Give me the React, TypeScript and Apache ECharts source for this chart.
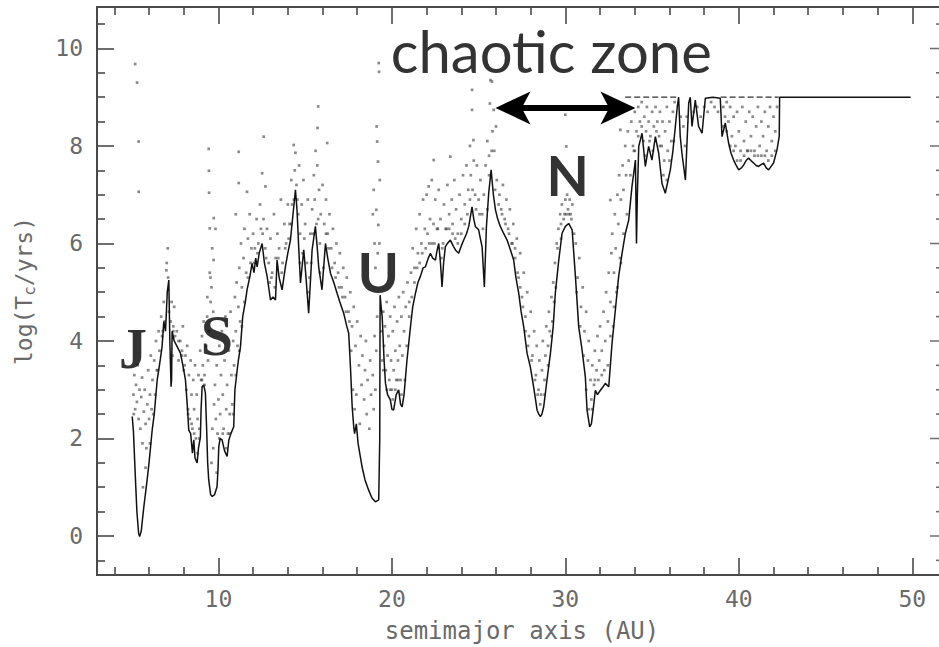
import { useEffect, useRef } from 'react';
import * as echarts from 'echarts';

// Tick positions (AU on x, log10 of lifetime on y)
const xMajor = [10, 20, 30, 40, 50];
const xMinor = [4, 6, 8, 12, 14, 16, 18, 22, 24, 26, 28, 32, 34, 36, 38, 42, 44, 46, 48];
const yMajor = [0, 2, 4, 6, 8, 10];
const yMinor = [-0.5, 0.5, 1, 1.5, 2.5, 3, 3.5, 4.5, 5, 5.5, 6.5, 7, 7.5, 8.5, 9, 9.5, 10.5];
const xFrameRight = 52;

// Shortest survival time of the test particles versus semimajor axis
const minLifetime: [number, number][] = [
  [5.03, 2.45], [5.1, 2.15], [5.2, 1.3], [5.3, 0.5], [5.4, 0.05], [5.46, -0.01], [5.55, 0.1], [5.7, 0.6],
  [5.89, 1.15], [6.0, 1.5], [6.18, 2.17], [6.3, 2.5], [6.47, 3.2], [6.6, 3.5], [6.75, 3.88], [6.85, 4.4],
  [6.95, 4.2], [7.05, 5.0], [7.14, 5.25], [7.2, 4.0], [7.27, 3.06], [7.3, 3.2], [7.33, 4.2], [7.45, 4.0],
  [7.6, 3.9], [7.81, 3.75], [7.95, 3.5], [8.1, 3.2], [8.2, 2.7], [8.29, 2.17], [8.4, 2.1], [8.5, 1.7],
  [8.58, 1.97], [8.65, 1.6], [8.77, 1.5], [8.85, 1.8], [8.96, 2.03], [9.0, 2.6], [9.06, 3.06], [9.15, 3.1],
  [9.25, 2.93], [9.32, 2.2], [9.38, 1.5], [9.44, 1.15], [9.55, 0.85], [9.64, 0.81], [9.78, 0.85], [9.92, 1.01],
  [9.98, 1.4], [10.02, 1.83], [10.1, 2.0], [10.21, 1.97], [10.35, 1.75], [10.5, 1.63], [10.6, 1.97], [10.72, 2.1],
  [10.88, 2.24], [10.95, 3.0], [11.08, 3.4], [11.15, 3.6], [11.27, 3.88], [11.4, 4.5], [11.55, 4.8], [11.65, 5.05],
  [11.8, 5.3], [11.94, 5.59], [12.05, 5.4], [12.15, 5.7], [12.23, 5.52], [12.35, 5.8], [12.52, 6.0], [12.65, 5.6],
  [12.81, 5.32], [13.0, 4.84], [13.15, 4.9], [13.29, 4.84], [13.38, 5.66], [13.5, 5.3], [13.67, 5.05], [13.86, 5.52],
  [14.0, 5.8], [14.15, 6.07], [14.3, 6.6], [14.44, 7.1], [14.53, 6.69], [14.63, 5.9], [14.73, 5.19], [14.92, 5.87],
  [15.05, 5.3], [15.2, 4.57], [15.3, 5.2], [15.4, 5.87], [15.59, 6.35], [15.7, 5.9], [15.78, 5.52], [15.97, 5.05],
  [16.17, 6.0], [16.3, 5.7], [16.46, 5.39], [16.65, 5.2], [16.84, 4.98], [17.0, 4.8], [17.22, 4.57], [17.4, 4.3],
  [17.51, 4.16], [17.61, 3.47], [17.71, 2.65], [17.8, 2.24], [17.85, 2.1], [17.95, 2.3], [18.05, 1.9], [18.28, 1.42],
  [18.45, 1.15], [18.66, 0.94], [18.85, 0.78], [19.05, 0.7], [19.24, 0.74], [19.3, 2.0], [19.32, 4.94], [19.38, 4.7],
  [19.44, 4.5], [19.55, 3.6], [19.63, 3.13], [19.75, 2.9], [19.91, 2.79], [20.0, 2.6], [20.1, 2.58], [20.25, 2.9],
  [20.39, 3.0], [20.5, 2.7], [20.59, 2.65], [20.7, 2.9], [20.87, 3.61], [21.07, 4.29], [21.2, 4.7], [21.36, 4.98],
  [21.5, 5.2], [21.64, 5.32], [21.8, 5.5], [21.93, 5.52], [22.1, 5.7], [22.22, 5.8], [22.35, 5.7], [22.51, 5.66],
  [22.6, 5.85], [22.7, 6.0], [22.8, 5.6], [22.89, 5.11], [22.98, 5.6], [23.08, 5.93], [23.2, 6.0], [23.37, 6.07],
  [23.56, 5.93], [23.7, 5.85], [23.85, 5.8], [24.0, 5.95], [24.14, 6.07], [24.3, 6.2], [24.43, 6.35], [24.55, 6.6],
  [24.62, 6.75], [24.72, 6.5], [24.81, 6.35], [25.0, 6.28], [25.1, 6.1], [25.2, 5.93], [25.33, 5.11], [25.45, 6.35],
  [25.58, 7.03], [25.72, 7.51], [25.85, 7.0], [25.97, 6.69], [26.1, 6.5], [26.25, 6.35], [26.45, 6.2], [26.64, 6.07],
  [26.85, 5.85], [27.02, 5.66], [27.15, 5.3], [27.31, 4.98], [27.45, 4.6], [27.6, 4.29], [27.79, 3.75], [27.98, 3.47],
  [28.17, 3.06], [28.3, 2.75], [28.37, 2.58], [28.47, 2.5], [28.56, 2.45], [28.65, 2.5], [28.75, 2.65], [28.94, 3.2],
  [29.14, 3.75], [29.3, 4.3], [29.42, 4.98], [29.62, 5.66], [29.81, 6.21], [30.0, 6.35], [30.19, 6.41], [30.39, 6.28],
  [30.58, 5.32], [30.77, 4.29], [30.96, 3.82], [31.15, 3.27], [31.25, 2.58], [31.4, 2.24], [31.5, 2.3], [31.6, 2.58],
  [31.73, 2.99], [31.85, 2.9], [32.02, 2.99], [32.15, 3.05], [32.3, 3.13], [32.5, 3.06], [32.69, 3.95], [32.88, 4.63],
  [33.07, 5.32], [33.27, 5.8], [33.46, 6.21], [33.65, 6.48], [33.84, 7.17], [34.04, 7.71], [34.1, 6.0], [34.15, 7.0],
  [34.23, 7.99], [34.42, 8.26], [34.61, 7.58], [34.8, 7.99], [34.99, 7.71], [35.19, 8.19], [35.38, 7.85], [35.57, 7.23],
  [35.76, 7.03], [36.05, 7.51], [36.2, 7.9], [36.34, 8.4], [36.45, 8.8], [36.53, 9.0], [36.62, 8.2], [36.72, 7.85],
  [36.92, 7.3], [37.11, 8.88], [37.2, 9.0], [37.3, 8.4], [37.49, 8.94], [37.68, 8.4], [37.88, 8.26], [38.07, 8.98],
  [38.5, 9.0], [38.93, 8.98], [39.03, 8.19], [39.22, 8.47], [39.41, 8.06], [39.55, 7.85], [39.7, 7.71], [39.85, 7.6],
  [39.99, 7.51], [40.15, 7.55], [40.28, 7.61], [40.42, 7.7], [40.56, 7.75], [40.7, 7.7], [40.85, 7.65], [41.0, 7.6],
  [41.14, 7.58], [41.3, 7.62], [41.43, 7.65], [41.58, 7.55], [41.72, 7.51], [41.86, 7.58], [42.0, 7.65], [42.2, 7.92],
  [42.33, 8.2], [42.35, 9.0], [49.9, 9.0],
];

// Particles that reached the end of the integration, drawn along log T = 9
const capSegments: [number, number][][] = [
  [[33.45, 9.0], [36.5, 9.0]],
  [[38.95, 9.0], [42.3, 9.0]],
];

// Individual particle lifetimes, grouped by region
const jupiterZone: [number, number][] = [
  [5.1, 2.9], [5.15, 3.3], [5.2, 2.6], [5.25, 3.1], [5.3, 2.75], [5.35, 3.5], [5.4, 2.4], [5.45, 3.0],
  [5.5, 2.2], [5.55, 2.85], [5.6, 3.25], [5.62, 1.9], [5.7, 2.55], [5.75, 3.0], [5.8, 2.3], [5.85, 1.8],
  [5.9, 2.7], [5.95, 3.4], [6.0, 2.4], [6.05, 2.9], [6.1, 3.7], [6.15, 2.6], [6.2, 3.2], [6.3, 3.6],
  [6.35, 2.9], [6.4, 4.0], [6.45, 3.4], [6.55, 4.2], [6.6, 3.8], [6.7, 4.5], [6.75, 4.1], [6.85, 4.8],
  [6.9, 4.4], [7.0, 5.45], [7.02, 5.6], [7.08, 5.9], [7.15, 4.6], [7.25, 4.4], [7.3, 4.8], [7.35, 3.7],
  [7.4, 4.3], [7.45, 4.7], [7.5, 4.1], [5.2, 9.68], [5.31, 9.3], [5.4, 8.09], [5.4, 7.06],
];

const saturnZone: [number, number][] = [
  [7.6, 4.2], [7.7, 3.6], [7.8, 4.0], [7.9, 3.8], [7.95, 4.3], [8.0, 3.4], [8.1, 3.7], [8.15, 3.0],
  [8.2, 3.9], [8.25, 2.6], [8.3, 3.3], [8.35, 2.4], [8.4, 3.6], [8.45, 2.9], [8.5, 2.2], [8.55, 3.2],
  [8.6, 2.6], [8.65, 3.5], [8.7, 2.0], [8.75, 2.9], [8.8, 2.4], [8.85, 3.3], [8.9, 2.2], [8.95, 3.8],
  [9.0, 3.2], [9.05, 4.1], [9.1, 3.5], [9.15, 4.4], [9.2, 3.3], [9.3, 3.9], [9.35, 4.5], [9.4, 3.6],
  [9.44, 7.94], [9.45, 7.49], [9.46, 7.04], [9.5, 6.31], [9.64, 5.9], [9.73, 6.52], [9.5, 5.4], [9.6, 5.1],
  [9.55, 4.8], [9.7, 4.6], [9.45, 4.2], [9.83, 6.3], [9.72, 5.66], [9.54, 5.3], [9.36, 4.9],
  [9.6, 1.5], [9.65, 2.2], [9.7, 1.8], [9.75, 2.7], [9.8, 3.1], [9.85, 2.4], [9.9, 3.5], [9.95, 2.1],
  [10.0, 2.8], [10.05, 3.9], [10.1, 2.5], [10.15, 3.3], [10.2, 4.2], [10.25, 2.9], [10.3, 2.2], [10.35, 3.6],
  [10.4, 4.5], [10.45, 2.6], [10.5, 3.1], [10.55, 2.1], [10.6, 3.8], [10.65, 2.5], [10.7, 4.6], [10.75, 3.3],
  [10.8, 2.7], [10.85, 4.0], [10.9, 3.5], [10.95, 4.9], [11.0, 4.2], [11.05, 5.2], [11.1, 3.9], [11.15, 4.7],
  [11.2, 5.5], [11.25, 4.4], [11.3, 6.0], [11.35, 5.1], [11.45, 5.7], [11.5, 6.3], [11.6, 5.4], [11.7, 6.1],
  [11.8, 6.6], [11.9, 5.9], [11.17, 7.88], [11.17, 7.24], [11.65, 7.06], [11.0, 6.6],
];

const innerBelt: [number, number][] = [
  [12.0, 6.2], [12.1, 5.9], [12.2, 6.5], [12.3, 6.0], [12.4, 6.8], [12.45, 6.3], [12.52, 7.44], [12.61, 8.19],
  [12.71, 7.17], [12.6, 6.5], [12.7, 5.9], [12.8, 6.3], [12.9, 5.6], [13.0, 6.1], [13.1, 5.4], [13.2, 6.6],
  [13.3, 5.7], [13.4, 6.2], [13.5, 5.9], [13.6, 6.9], [13.7, 5.6], [13.8, 6.4], [13.9, 6.0], [14.0, 6.8],
  [14.1, 6.4], [14.2, 7.3], [14.25, 6.8], [14.34, 8.02], [14.44, 7.86], [14.4, 7.5], [14.5, 7.2], [14.6, 6.6],
  [14.65, 7.6], [14.7, 6.2], [14.8, 6.8], [14.85, 5.8], [14.9, 7.3], [15.0, 6.4], [15.1, 5.6], [15.15, 6.9],
  [15.25, 5.3], [15.3, 6.2], [15.4, 6.7], [15.5, 7.4], [15.55, 6.9], [15.6, 7.9], [15.75, 8.81], [15.72, 8.37],
  [15.7, 7.6], [15.75, 6.5], [15.8, 7.1], [15.85, 6.0], [15.9, 6.6], [16.0, 7.2], [16.1, 6.4], [16.2, 6.9],
  [16.27, 8.06], [16.3, 6.2], [16.4, 6.6], [16.5, 5.9], [16.6, 6.3], [16.7, 5.6], [16.8, 6.0], [16.9, 5.4],
  [17.0, 5.8], [17.1, 5.1], [17.2, 5.5], [17.3, 4.9], [17.4, 5.3], [17.5, 4.6], [17.6, 5.0], [17.7, 4.3],
  [17.8, 4.7], [17.9, 3.9], [18.0, 4.4], [18.1, 3.5], [18.2, 4.1], [18.25, 3.1], [18.3, 3.7], [18.4, 2.8],
  [18.45, 3.4], [18.5, 4.0], [18.55, 2.5], [18.6, 3.2], [18.7, 2.2], [18.75, 3.6], [18.8, 2.9], [18.9, 3.3],
  [18.95, 2.6], [19.0, 4.1], [19.05, 3.0], [19.1, 3.8], [19.15, 4.5],
];

const uranusZone: [number, number][] = [
  [19.24, 9.7], [19.26, 9.52], [19.15, 8.09], [19.2, 7.68], [18.95, 7.1], [19.1, 6.69], [19.22, 6.38], [19.0, 6.0],
  [19.18, 5.8], [19.05, 5.5], [19.12, 8.4], [19.3, 7.3], [18.9, 6.6], [19.28, 6.0],
  [19.4, 4.2], [19.45, 3.6], [19.5, 4.6], [19.55, 3.9], [19.6, 4.3], [19.65, 3.4], [19.7, 4.8], [19.75, 3.7],
  [19.8, 4.1], [19.85, 3.2], [19.9, 4.5], [19.95, 3.6], [20.0, 3.0], [20.05, 4.2], [20.1, 3.4], [20.15, 4.7],
  [20.2, 3.8], [20.25, 3.2], [20.3, 4.4], [20.35, 3.6], [20.4, 4.9], [20.45, 3.9], [20.5, 3.2], [20.55, 4.5],
  [20.6, 3.7], [20.65, 5.0], [20.7, 4.2], [20.8, 4.7], [20.9, 5.2], [21.0, 4.8],
];

const middleBelt: [number, number][] = [
  [21.1, 5.4], [21.2, 5.9], [21.3, 5.5], [21.4, 6.3], [21.5, 5.8], [21.6, 6.6], [21.7, 6.0], [21.8, 6.9],
  [21.9, 6.3], [22.0, 7.0], [22.05, 6.2], [22.12, 7.17], [22.2, 6.5], [22.3, 7.3], [22.41, 7.71], [22.4, 6.4],
  [22.5, 6.9], [22.6, 6.3], [22.7, 7.1], [22.8, 6.5], [22.9, 5.9], [23.0, 6.8], [23.1, 6.3], [23.2, 7.2],
  [23.3, 6.6], [23.37, 7.78], [23.45, 6.9], [23.5, 6.4], [23.6, 7.3], [23.7, 6.7], [23.8, 6.2], [23.9, 7.0],
  [24.0, 6.5], [24.1, 7.4], [24.2, 6.8], [24.3, 7.6], [24.4, 7.1], [24.5, 8.0], [24.55, 7.4], [24.62, 8.74],
  [24.62, 9.15], [24.7, 8.12], [24.72, 7.7], [24.8, 7.0], [24.9, 7.6], [25.0, 6.9], [25.1, 7.3], [25.2, 6.6],
  [25.3, 7.0], [25.4, 7.6], [25.5, 8.1], [25.6, 7.8], [25.68, 9.35], [25.77, 9.32], [25.65, 8.87], [25.87, 8.74],
  [25.8, 8.3], [25.9, 7.9], [26.0, 8.4], [26.05, 7.3],
  [26.2, 7.0], [26.3, 6.7], [26.4, 7.2], [26.5, 6.5], [26.6, 6.9], [26.7, 6.3], [26.8, 6.7], [26.9, 6.0],
  [27.0, 6.4], [27.1, 5.7], [27.2, 6.1], [27.3, 5.3], [27.4, 5.8], [27.5, 4.9], [27.6, 5.4], [27.7, 4.5],
  [27.8, 5.0], [27.9, 4.1], [28.0, 4.6], [28.1, 3.7], [28.2, 4.2], [28.3, 3.3], [28.35, 3.9], [28.45, 3.0],
  [28.5, 3.6], [28.6, 2.9], [28.65, 3.4], [28.7, 4.0], [28.8, 3.2], [28.85, 3.7], [28.9, 4.3], [29.0, 3.9],
];

const neptuneZone: [number, number][] = [
  [29.05, 4.6], [29.1, 4.2], [29.2, 4.9], [29.25, 4.4], [29.3, 5.2], [29.4, 5.6], [29.45, 5.1], [29.5, 6.0],
  [29.6, 6.3], [29.7, 6.6], [29.75, 6.1], [29.8, 6.8], [29.9, 6.5], [30.0, 6.9], [30.05, 6.6], [30.1, 7.0],
  [30.15, 6.7], [30.25, 6.9], [30.3, 6.6], [30.4, 6.8], [30.0, 8.64], [30.05, 7.99],
  [30.6, 6.0], [30.7, 5.3], [30.8, 5.7], [30.9, 4.7], [31.0, 5.1], [31.1, 4.2], [31.2, 4.6], [31.3, 3.6],
  [31.35, 4.0], [31.45, 3.2], [31.5, 2.8], [31.55, 3.5], [31.65, 3.1], [31.7, 3.8], [31.8, 3.4], [31.85, 4.1],
  [31.95, 3.6], [32.0, 4.3], [32.1, 3.8], [32.2, 4.6], [32.3, 4.0], [32.35, 5.0], [32.45, 4.4], [32.5, 5.4],
  [32.6, 4.8], [32.59, 6.89], [32.65, 5.8], [32.7, 6.2], [32.8, 5.4], [32.85, 6.6], [32.9, 5.9], [33.0, 7.0],
  [33.05, 6.4], [33.1, 7.4], [33.17, 8.33], [33.2, 6.9], [33.3, 7.6], [33.35, 7.1], [33.45, 8.0], [33.5, 7.4],
  [33.6, 8.3], [33.65, 7.7],
];

const outerBelt: [number, number][] = [
  [33.8, 8.5], [33.9, 8.0], [34.0, 8.7], [34.1, 8.3], [34.2, 8.8], [34.3, 8.5], [34.4, 8.9], [34.5, 8.1],
  [34.55, 8.6], [34.65, 8.3], [34.7, 8.8], [34.8, 8.5], [34.9, 8.2], [35.0, 8.7], [35.1, 8.4], [35.2, 8.8],
  [35.3, 8.5], [35.4, 8.2], [35.45, 8.7], [35.55, 8.0], [35.6, 8.5], [35.7, 7.7], [35.75, 8.3], [35.85, 8.8],
  [35.9, 7.9], [36.0, 8.5], [36.1, 8.1], [36.2, 8.7], [36.3, 8.9], [36.65, 8.6], [36.8, 8.4], [36.9, 8.0],
  [37.0, 8.6], [37.4, 8.7], [37.6, 8.8], [37.8, 8.6], [38.0, 8.8], [38.2, 8.7], [38.4, 8.9], [38.6, 8.8],
  [38.8, 8.7], [39.1, 8.8], [39.2, 8.6], [39.3, 8.9], [39.4, 8.5], [39.5, 8.8], [39.6, 8.2], [39.7, 8.6],
  [39.8, 8.0], [39.9, 8.7], [40.0, 8.3], [40.1, 7.9], [40.2, 8.8], [40.3, 8.1], [40.4, 8.5], [40.5, 7.9],
  [40.6, 8.7], [40.7, 8.2], [40.8, 8.6], [40.9, 7.9], [41.0, 8.4], [41.1, 8.8], [41.2, 8.0], [41.3, 8.5],
  [41.4, 8.2], [41.5, 8.7], [41.6, 7.9], [41.7, 8.4], [41.8, 8.8], [41.9, 8.1], [42.0, 8.6], [42.1, 8.3],
  [42.2, 8.8], [33.2, 5.6], [33.0, 5.1], [32.8, 4.7],
];

// Particles lost just after the fastest ones, crowding above the solid curve
const nearCurve: [number, number][] = [
  [5.12, 2.5], [5.65, 1.0], [5.8, 1.4], [6.05, 1.9], [6.25, 2.5], [6.5, 3.4], [6.8, 4.2], [7.1, 5.3],
  [7.4, 4.2], [7.7, 4.0], [7.9, 3.7], [8.05, 3.5], [8.25, 2.5], [8.45, 2.3], [8.6, 2.1], [8.8, 1.7],
  [8.9, 2.0], [9.05, 3.2], [9.2, 3.1], [9.9, 1.3], [10.05, 2.0], [10.25, 2.1], [10.45, 1.8], [10.65, 2.1],
  [10.85, 2.5], [11.0, 3.3], [11.2, 3.8], [11.35, 4.3], [11.5, 4.8], [11.7, 5.3], [11.85, 5.6],
  [12.05, 5.6], [12.25, 5.8], [12.55, 6.2], [12.75, 5.7], [12.95, 5.2], [13.05, 5.3], [13.25, 5.1], [13.45, 5.7],
  [13.65, 5.4], [13.85, 5.9], [14.05, 6.1], [14.2, 6.4], [14.35, 6.9], [14.55, 6.9], [14.7, 5.6], [14.95, 6.1],
  [15.15, 5.0], [15.35, 5.6], [15.45, 6.2], [15.65, 6.4], [15.85, 5.4], [16.05, 5.5], [16.2, 6.2], [16.35, 5.9],
  [16.55, 5.5], [16.75, 5.3], [16.95, 5.1], [17.15, 4.9], [17.35, 4.6], [17.55, 4.4], [17.65, 3.8], [17.75, 3.0],
  [17.85, 2.6], [17.95, 2.9], [18.15, 2.3],
  [19.5, 3.4], [19.7, 3.0], [19.9, 3.0], [20.05, 2.8], [20.2, 3.0], [20.35, 3.2], [20.55, 2.9], [20.75, 3.2],
  [20.85, 3.9], [21.0, 4.5],
  [21.15, 4.9], [21.3, 5.2], [21.45, 5.5], [21.6, 5.6], [21.75, 5.8], [21.95, 5.9], [22.15, 6.0], [22.3, 6.0],
  [22.45, 6.0], [22.65, 6.3], [22.85, 5.7], [22.95, 6.0], [23.15, 6.3], [23.3, 6.3], [23.5, 6.2], [23.65, 6.1],
  [23.8, 6.0], [24.0, 6.2], [24.2, 6.4], [24.35, 6.6], [24.5, 6.9], [24.65, 7.1], [24.85, 6.7], [25.05, 6.6],
  [25.25, 6.3], [25.5, 6.7], [25.6, 7.4], [25.75, 7.9], [25.95, 7.1], [26.15, 6.8], [26.35, 6.6], [26.55, 6.4],
  [26.75, 6.2], [26.95, 6.0], [27.1, 5.9], [27.25, 5.4], [27.4, 5.1], [27.55, 4.7], [27.7, 4.2], [27.85, 3.9],
  [28.05, 3.6], [28.25, 3.2], [28.4, 2.9], [28.55, 2.7],
  [28.8, 2.9], [29.0, 3.5], [29.2, 4.1], [29.35, 4.8], [29.55, 5.9], [29.75, 6.4], [29.95, 6.6], [30.2, 6.6],
  [30.35, 6.5], [30.5, 6.2], [30.65, 5.0], [30.85, 4.3], [31.05, 3.7], [31.2, 3.0], [31.35, 2.6], [31.55, 2.6],
  [31.7, 3.2], [31.9, 3.2], [32.1, 3.3], [32.25, 3.4], [32.45, 3.5], [32.6, 4.1], [32.75, 4.3], [32.95, 5.0],
  [33.15, 5.7], [33.35, 6.2], [33.55, 6.6], [33.75, 7.4], [33.95, 7.9],
  [34.0, 7.9], [34.2, 8.2], [34.4, 8.4], [34.6, 7.8], [34.85, 8.1], [35.05, 7.9], [35.25, 8.3], [35.45, 8.0],
  [35.65, 7.4], [35.85, 7.3], [36.0, 7.7], [36.25, 8.1], [39.1, 8.4], [39.3, 8.3], [39.5, 8.0], [39.7, 7.9],
  [39.9, 7.7], [40.1, 7.7], [40.3, 7.8], [40.5, 7.9], [40.7, 7.9], [40.9, 7.8], [41.1, 7.8], [41.3, 7.8],
  [41.5, 7.8], [41.7, 7.7], [41.9, 7.8], [42.1, 7.9],
];

// Double arrow spanning the chaotic zone: centres of the two heads, in AU, at log T
const chaoticZone = { from: 26.98, to: 33.03, level: 8.78 };
const headLeft = 'path://M0,10 L20,0 L15,10 L20,20 Z';
const headRight = 'path://M20,10 L0,0 L5,10 L0,20 Z';

// Text labels placed in data coordinates
const annotations = [
  { text: 'chaotic zone', at: [29.19, 9.96], family: 'Lato', weight: 'normal', size: 58 },
  { text: 'J', at: [5.07, 3.84], family: '"Liberation Serif"', weight: 'bold', size: 56 },
  { text: 'S', at: [9.91, 4.12], family: '"Liberation Serif"', weight: 'bold', size: 58 },
  { text: 'U', at: [19.22, 5.43], family: 'Lato', weight: 'bold', size: 56 },
  { text: 'N', at: [30.14, 7.4], family: 'Lato', weight: 'bold', size: 55 },
];

const ink = '#4a4a4a';
const labelGrey = '#6a6a6a';
const mono = '"DejaVu Sans Mono", monospace';

const xBase = {
  type: 'value',
  min: 3,
  max: xFrameRight,
  splitLine: { show: false },
  axisLine: { show: true, onZero: false, lineStyle: { color: ink, width: 2 } },
  axisLabel: { show: false },
  nameMoveOverlap: false,
};

const yBase = {
  type: 'value',
  min: -0.8,
  max: 10.85,
  splitLine: { show: false },
  axisLine: { show: true, onZero: false, lineStyle: { color: ink, width: 2 } },
  axisLabel: { show: false },
  nameMoveOverlap: false,
};

const tick = (values: number[], length: number) => ({
  show: true,
  inside: true,
  length,
  customValues: values,
  lineStyle: { color: ink, width: 1.6 },
});

const tickLabel = (values: number[], margin: number) => ({
  show: true,
  customValues: values,
  margin,
  color: labelGrey,
  fontFamily: mono,
  fontSize: 23,
});

// Short horizontal marks centred on the right-hand frame (only their inner half is on the canvas)
const rightFrameTicks = (values: number[], length: number) => ({
  type: 'scatter',
  data: values.map((v) => [xFrameRight, v]),
  symbol: 'rect',
  symbolSize: [length * 2, 1.6],
  itemStyle: { color: ink },
  clip: false,
  silent: true,
  z: 4,
});

export default function App() {
  const ref = useRef<HTMLDivElement>(null);

  useEffect(() => {
    if (!ref.current) return;
    const chart = echarts.init(ref.current, undefined, { renderer: 'svg' });

    const dots = [
      ...jupiterZone,
      ...saturnZone,
      ...innerBelt,
      ...uranusZone,
      ...middleBelt,
      ...neptuneZone,
      ...outerBelt,
      ...nearCurve,
    ];

    const option: any = {
      animation: false,
      backgroundColor: '#ffffff',
      // the plot frame runs past the right edge of the 939 px canvas, so its right side is cut off
      grid: { left: 97, top: 7, width: 850, height: 568, containLabel: false, outerBoundsMode: 'none' },
      xAxis: [
        {
          ...xBase,
          position: 'bottom',
          axisTick: tick(xMajor, 17),
          axisLabel: tickLabel(xMajor, 12),
          name: 'semimajor axis (AU)',
          nameLocation: 'middle',
          nameGap: 44,
          nameTextStyle: { color: labelGrey, fontFamily: mono, fontSize: 24 },
        },
        { ...xBase, position: 'top', axisTick: tick(xMajor, 17) },
        { ...xBase, position: 'bottom', axisTick: tick(xMinor, 8) },
        { ...xBase, position: 'top', axisTick: tick(xMinor, 8) },
      ],
      yAxis: [
        {
          ...yBase,
          position: 'left',
          axisTick: tick(yMajor, 17),
          axisLabel: tickLabel(yMajor, 14),
          name: '{n|log(T}{s|c}{n|/yrs)}',
          nameLocation: 'middle',
          nameGap: 60,
          nameTextStyle: {
            color: labelGrey,
            fontFamily: mono,
            fontSize: 23,
            rich: {
              n: { color: labelGrey, fontFamily: mono, fontSize: 23, lineHeight: 27 },
              s: { color: labelGrey, fontFamily: mono, fontSize: 16, lineHeight: 16, verticalAlign: 'bottom' },
            },
          },
        },
        { ...yBase, position: 'left', axisTick: tick(yMinor, 8) },
      ],
      series: [
        rightFrameTicks(yMajor, 17),
        rightFrameTicks(yMinor, 11),
        {
          type: 'scatter',
          name: 'particles',
          data: dots,
          symbol: 'rect',
          symbolSize: 2.7,
          itemStyle: { color: 'rgba(40,40,40,0.68)' },
          silent: true,
          z: 2,
        },
        {
          type: 'line',
          name: 'minimum lifetime',
          data: minLifetime,
          symbol: 'none',
          showSymbol: false,
          lineStyle: { color: '#111', width: 1.5 },
          silent: true,
          z: 3,
        },
        ...capSegments.map((seg) => ({
          type: 'line',
          data: seg,
          symbol: 'none',
          showSymbol: false,
          lineStyle: { color: '#333', width: 1.3, type: [6, 3] },
          silent: true,
          z: 3,
        })),
        {
          type: 'line',
          name: 'chaotic zone shaft',
          data: [
            [chaoticZone.from, chaoticZone.level],
            [chaoticZone.to, chaoticZone.level],
          ],
          symbol: 'none',
          showSymbol: false,
          lineStyle: { color: '#000', width: 6 },
          silent: true,
          z: 9,
        },
        {
          type: 'scatter',
          name: 'chaotic zone heads',
          data: [
            { value: [chaoticZone.from, chaoticZone.level], symbol: headLeft },
            { value: [chaoticZone.to, chaoticZone.level], symbol: headRight },
          ],
          symbolSize: [35, 33],
          itemStyle: { color: '#000', opacity: 1 },
          silent: true,
          z: 9,
        },
        {
          type: 'scatter',
          name: 'annotations',
          symbolSize: 1,
          itemStyle: { color: 'transparent' },
          silent: true,
          z: 10,
          data: annotations.map((a) => ({
            value: a.at,
            label: {
              show: true,
              position: 'inside',
              formatter: a.text,
              color: '#000',
              fontFamily: a.family,
              fontWeight: a.weight,
              fontSize: a.size,
            },
          })),
        },
      ],
    };

    chart.setOption(option);
    return () => chart.dispose();
  }, []);

  return (
    <div
      ref={ref}
      style={{
        position: 'fixed',
        left: 0,
        top: 0,
        width: 939,
        height: 647,
        overflow: 'hidden',
        background: '#fff',
      }}
    />
  );
}
